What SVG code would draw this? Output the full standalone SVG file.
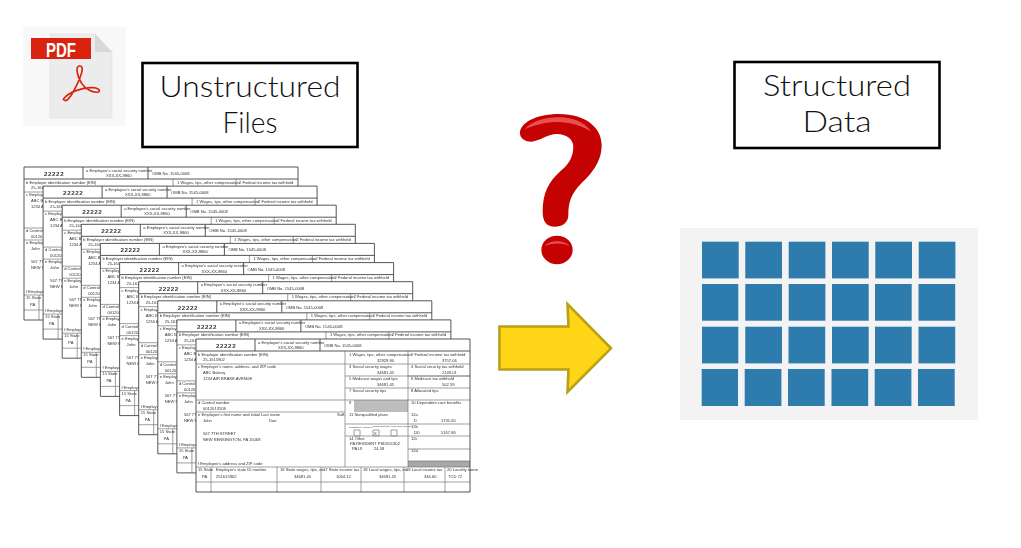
<svg xmlns="http://www.w3.org/2000/svg" xmlns:xlink="http://www.w3.org/1999/xlink" width="1021" height="548" viewBox="0 0 1021 548">
<style>
.title{font-family:"Lato","Open Sans","Liberation Sans",sans-serif;font-weight:300;font-size:29.5px;fill:#111;text-anchor:middle}
.lbl{fill:#fff;stroke:#000;stroke-width:2.6}
.f{font-family:"Liberation Sans",Arial,sans-serif;font-size:4.1px;fill:#333}
.fl{stroke:#777;stroke-width:.7;fill:none}
.fo{stroke:#444;stroke-width:.9;fill:none}
.cell{fill:#2e7bad}
</style>
<defs>
<filter id="soft" x="-2%" y="-2%" width="104%" height="104%"><feGaussianBlur stdDeviation="0.38"/></filter>
<filter id="soft2" x="-5%" y="-5%" width="110%" height="110%"><feGaussianBlur stdDeviation="0.65"/></filter>
<g id="form">
<rect width="274" height="153" fill="#fff"/>
<rect x="158" y="61" width="54" height="12" fill="#bdbdbd"/>
<rect x="212" y="122" width="62" height="6" fill="#a8a8a8"/>
<path class="fl" d="M0 25H274M0 61H274M0 73H149M0 128H274M0 143H274M149 12V128M212 12V128M149 37H274M149 49H274M149 85H212M149 97H212M212 37H274M212 85H274M212 97H274M212 110H274M212 122H274M15 128V153M81 128V153M125 128V153M165 128V153M208 128V153M249 128V153"/>
<path class="fo" d="M0 0H274V153H0ZM0 12H274M59 0V12M124 0V12"/>
<text class="f" x="20" y="9" style="font-size:6.2px;font-weight:bold;letter-spacing:.6px">22222</text>
<text class="f" x="62" y="4.5">a  Employee's social security number</text>
<text class="f" x="82" y="10">XXX-XX-9860</text>
<text class="f" x="128" y="8">OMB No. 1545-0008</text>
<text class="f" x="2" y="16.5">b  Employer identification number (EIN)</text>
<text class="f" x="7" y="22">25-1615902</text>
<text class="f" x="153" y="16.5">1  Wages, tips, other compensation</text>
<text class="f" x="215" y="16.5">2  Federal income tax withheld</text>
<text class="f" x="181" y="22.5">32929.90</text>
<text class="f" x="246" y="22.5">3757.06</text>
<text class="f" x="2" y="29">c  Employer's name, address, and ZIP code</text>
<text class="f" x="7" y="35">ABC Bakery</text>
<text class="f" x="7" y="41">1234 AIR BRAKE AVENUE</text>
<text class="f" x="153" y="29">3  Social security wages</text>
<text class="f" x="215" y="29">4  Social security tax withheld</text>
<text class="f" x="181" y="35">34681.45</text>
<text class="f" x="246" y="35">2149.01</text>
<text class="f" x="153" y="41">5  Medicare wages and tips</text>
<text class="f" x="215" y="41">6  Medicare tax withheld</text>
<text class="f" x="181" y="47">34681.45</text>
<text class="f" x="246" y="47">502.59</text>
<text class="f" x="153" y="53">7  Social security tips</text>
<text class="f" x="215" y="53">8  Allocated tips</text>
<text class="f" x="2" y="65">d  Control number</text>
<text class="f" x="7" y="71">0012013208</text>
<text class="f" x="153" y="65">9</text>
<text class="f" x="215" y="65">10  Dependent care benefits</text>
<text class="f" x="2" y="77">e  Employee's first name and initial</text>
<text class="f" x="65" y="77">Last name</text>
<text class="f" x="141" y="77">Suff.</text>
<text class="f" x="7" y="83">John</text>
<text class="f" x="73" y="83">Doe</text>
<text class="f" x="7" y="96">567 7TH STREET</text>
<text class="f" x="7" y="102">NEW KENSINGTON, PA 15068</text>
<text class="f" x="2" y="126">f  Employee's address and ZIP code</text>
<text class="f" x="153" y="77">11  Nonqualified plans</text>
<text class="f" x="215" y="77">12a</text>
<text class="f" x="218" y="83">D</text>
<text class="f" x="245" y="83">1731.65</text>
<text class="f" x="215" y="89">12b</text>
<text class="f" x="218" y="95">DD</text>
<text class="f" x="245" y="95">5167.80</text>
<text class="f" x="215" y="101">12c</text>
<text class="f" x="215" y="113">12d</text>
<text class="f" x="153" y="89" style="font-size:2.4px">13  Statutory employee</text>
<text class="f" x="177" y="88" style="font-size:2.4px">Retirement plan</text>
<text class="f" x="195" y="88" style="font-size:2.4px">Third-party sick pay</text>
<path class="fl" d="M158 91h6v6h-6zM177 91h6v6h-6zM195 91h6v6h-6z"/>
<text class="f" x="178" y="96">X</text>
<text class="f" x="153" y="101">14  Other</text>
<text class="f" x="154" y="106">PA RESIDENT PSD651302</text>
<text class="f" x="156" y="111">PA UI</text>
<text class="f" x="178" y="111">24.58</text>
<text class="f" x="2" y="132">15  State</text>
<text class="f" x="20" y="132">Employer's state ID number</text>
<text class="f" x="84" y="132">16  State wages, tips, etc.</text>
<text class="f" x="127" y="132">17  State income tax</text>
<text class="f" x="167" y="132">18  Local wages, tips, etc.</text>
<text class="f" x="210" y="132">19  Local income tax</text>
<text class="f" x="251" y="132">20  Locality name</text>
<text class="f" x="6" y="139">PA</text>
<text class="f" x="20" y="139">251615902</text>
<text class="f" x="98" y="139">34681.45</text>
<text class="f" x="140" y="139">1064.12</text>
<text class="f" x="183" y="139">34681.45</text>
<text class="f" x="228" y="139">346.60</text>
<text class="f" x="252" y="139">TCD 72</text>
</g>
</defs>
<rect width="1021" height="548" fill="#fff"/>

<g id="pdf-icon">
<rect x="23" y="27" width="103" height="99" fill="#f8f8f8"/>
<path d="M50 34H95L112 52V118H50Z" fill="#ececec" stroke="#e0e0e0" stroke-width=".6"/>
<path d="M95 34V52H112Z" fill="#d8d8d8"/>
<rect x="31" y="38" width="60" height="21" fill="#d9230f"/>
<text x="61" y="56.5" text-anchor="middle" textLength="30" lengthAdjust="spacingAndGlyphs" style="font-family:'Liberation Sans',sans-serif;font-weight:bold;font-size:20.5px;fill:#fff">PDF</text>
<path transform="translate(15 20) scale(.3333)" d="M147 240C158 250 176 215 190 185C205 150 205 138 193 138C182 138 184 165 200 190C210 205 232 220 250 216C258 212 250 202 228 203C200 204 168 215 152 230C145 236 144 240 147 240Z" fill="none" stroke="#d9230f" stroke-width="5" stroke-linejoin="round"/>
</g>

<g id="label-unstructured">
<rect class="lbl" x="142.5" y="63" width="215" height="84"/>
<text class="title" x="250" y="97" textLength="181" lengthAdjust="spacingAndGlyphs">Unstructured</text>
<text class="title" x="250" y="133" textLength="55" lengthAdjust="spacingAndGlyphs">Files</text>
</g>
<g id="label-structured">
<rect class="lbl" x="734.5" y="62" width="205" height="86"/>
<text class="title" x="837" y="96" textLength="148" lengthAdjust="spacingAndGlyphs">Structured</text>
<text class="title" x="837" y="132" textLength="69" lengthAdjust="spacingAndGlyphs">Data</text>
</g>

<g id="forms" filter="url(#soft)">
<use xlink:href="#form" href="#form" x="24" y="167"/>
<use xlink:href="#form" href="#form" x="43.1" y="186.1"/>
<use xlink:href="#form" href="#form" x="62.2" y="205.2"/>
<use xlink:href="#form" href="#form" x="81.3" y="224.3"/>
<use xlink:href="#form" href="#form" x="100.4" y="243.4"/>
<use xlink:href="#form" href="#form" x="119.6" y="262.6"/>
<use xlink:href="#form" href="#form" x="138.7" y="281.7"/>
<use xlink:href="#form" href="#form" x="157.8" y="300.8"/>
<use xlink:href="#form" href="#form" x="176.9" y="319.9"/>
<use xlink:href="#form" href="#form" x="196" y="339"/>
</g>

<g id="question-mark" transform="translate(490 100) scale(.3333)">
<path d="M90 95C95 70 130 45 200 42C290 40 335 85 335 135C335 190 300 225 272 252C245 280 235 305 235 345C235 370 215 380 195 380C170 380 158 365 158 335C158 280 175 245 215 210C240 190 250 165 250 140C250 115 225 100 195 102C175 103 150 122 125 125C105 125 88 115 90 95Z" fill="#c50202"/>
<ellipse cx="201" cy="450" rx="47" ry="43" fill="#c50202"/>
<path d="M104 88C125 62 170 50 215 52C255 54 290 72 304 96C280 78 240 66 200 66C160 66 130 78 104 88Z" fill="#e8504f"/>
<path d="M165 438C175 420 225 418 238 438C220 428 185 428 165 438Z" fill="#e8504f"/>
</g>

<g id="connectors">
<path d="M499.5 326.5H568.5L567.5 304L611 348.3L567.5 392L568.5 369.5H499.5Z" fill="#ffd517" stroke="#b9a016" stroke-width="2.6"/>
</g>

<g id="data-grid">
<rect x="680" y="228" width="298" height="192" fill="#f3f3f3"/>
<g filter="url(#soft2)">
<rect class="cell" x="702" y="241.7" width="36.7" height="36.7"/><rect class="cell" x="745.3" y="241.7" width="36.7" height="36.7"/><rect class="cell" x="788.7" y="241.7" width="36.7" height="36.7"/><rect class="cell" x="832" y="241.7" width="36.7" height="36.7"/><rect class="cell" x="875.3" y="241.7" width="36.7" height="36.7"/><rect class="cell" x="918.7" y="241.7" width="36.7" height="36.7"/>
<rect class="cell" x="702" y="284" width="36.3" height="36.7"/><rect class="cell" x="745.3" y="284" width="36.7" height="36.7"/><rect class="cell" x="788.7" y="284" width="36.7" height="36.7"/><rect class="cell" x="832" y="284" width="36.7" height="36.7"/><rect class="cell" x="875" y="284" width="36.7" height="36.7"/><rect class="cell" x="918.5" y="284" width="36.7" height="36.7"/>
<rect class="cell" x="702" y="326.7" width="36.3" height="36.7"/><rect class="cell" x="745.3" y="326.7" width="36.7" height="36.7"/><rect class="cell" x="788.5" y="326.7" width="36.7" height="36.7"/><rect class="cell" x="832" y="326.7" width="36.7" height="36.7"/><rect class="cell" x="875" y="326.7" width="36.7" height="36.7"/><rect class="cell" x="918.5" y="326.7" width="36.7" height="36.7"/>
<rect class="cell" x="701.7" y="369" width="36.3" height="37"/><rect class="cell" x="744.7" y="369" width="36.7" height="37"/><rect class="cell" x="788" y="369" width="36.7" height="37"/><rect class="cell" x="831.5" y="369" width="36.7" height="37"/><rect class="cell" x="874.7" y="369" width="36.7" height="37"/><rect class="cell" x="918" y="369" width="36.7" height="37"/>
</g>
</g>
</svg>
